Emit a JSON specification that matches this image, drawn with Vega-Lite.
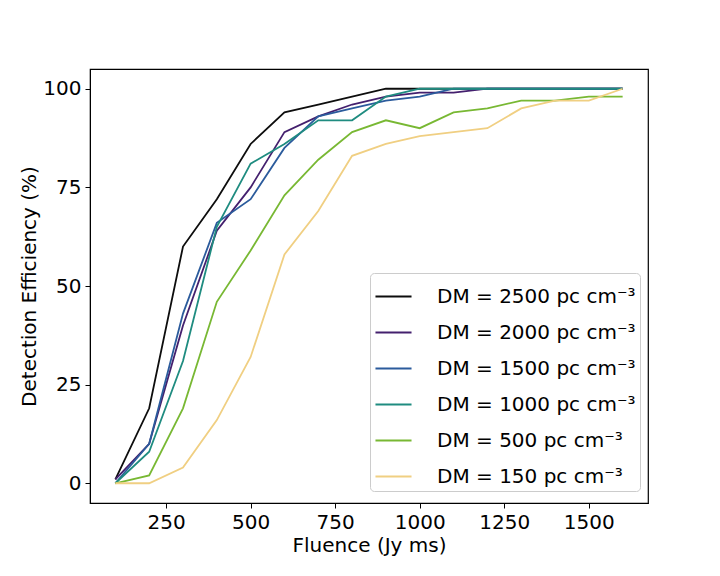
{
  "$schema": "https://vega.github.io/schema/vega-lite/v6.json",
  "autosize": "none",
  "padding": {"left": 90, "top": 69, "right": 72, "bottom": 73},
  "width": 558,
  "height": 434,
  "background": "white",
  "data": {
    "values": [
      {"f": 100, "e": 1, "dm": 2500}, {"f": 200, "e": 19, "dm": 2500}, {"f": 300, "e": 60, "dm": 2500}, {"f": 400, "e": 72, "dm": 2500},
      {"f": 500, "e": 86, "dm": 2500}, {"f": 600, "e": 94, "dm": 2500}, {"f": 700, "e": 96, "dm": 2500}, {"f": 800, "e": 98, "dm": 2500},
      {"f": 900, "e": 100, "dm": 2500}, {"f": 1000, "e": 100, "dm": 2500}, {"f": 1100, "e": 100, "dm": 2500}, {"f": 1200, "e": 100, "dm": 2500},
      {"f": 1300, "e": 100, "dm": 2500}, {"f": 1400, "e": 100, "dm": 2500}, {"f": 1500, "e": 100, "dm": 2500}, {"f": 1600, "e": 100, "dm": 2500},

      {"f": 100, "e": 1, "dm": 2000}, {"f": 200, "e": 10, "dm": 2000}, {"f": 300, "e": 40, "dm": 2000}, {"f": 400, "e": 64, "dm": 2000},
      {"f": 500, "e": 75, "dm": 2000}, {"f": 600, "e": 89, "dm": 2000}, {"f": 700, "e": 93, "dm": 2000}, {"f": 800, "e": 96, "dm": 2000},
      {"f": 900, "e": 98, "dm": 2000}, {"f": 1000, "e": 99, "dm": 2000}, {"f": 1100, "e": 99, "dm": 2000}, {"f": 1200, "e": 100, "dm": 2000},
      {"f": 1300, "e": 100, "dm": 2000}, {"f": 1400, "e": 100, "dm": 2000}, {"f": 1500, "e": 100, "dm": 2000}, {"f": 1600, "e": 100, "dm": 2000},

      {"f": 100, "e": 0, "dm": 1500}, {"f": 200, "e": 10, "dm": 1500}, {"f": 300, "e": 43, "dm": 1500}, {"f": 400, "e": 66, "dm": 1500},
      {"f": 500, "e": 72, "dm": 1500}, {"f": 600, "e": 85, "dm": 1500}, {"f": 700, "e": 93, "dm": 1500}, {"f": 800, "e": 95, "dm": 1500},
      {"f": 900, "e": 97, "dm": 1500}, {"f": 1000, "e": 98, "dm": 1500}, {"f": 1100, "e": 100, "dm": 1500}, {"f": 1200, "e": 100, "dm": 1500},
      {"f": 1300, "e": 100, "dm": 1500}, {"f": 1400, "e": 100, "dm": 1500}, {"f": 1500, "e": 100, "dm": 1500}, {"f": 1600, "e": 100, "dm": 1500},

      {"f": 100, "e": 0, "dm": 1000}, {"f": 200, "e": 8, "dm": 1000}, {"f": 300, "e": 31, "dm": 1000}, {"f": 400, "e": 65, "dm": 1000},
      {"f": 500, "e": 81, "dm": 1000}, {"f": 600, "e": 86, "dm": 1000}, {"f": 700, "e": 92, "dm": 1000}, {"f": 800, "e": 92, "dm": 1000},
      {"f": 900, "e": 98, "dm": 1000}, {"f": 1000, "e": 100, "dm": 1000}, {"f": 1100, "e": 100, "dm": 1000}, {"f": 1200, "e": 100, "dm": 1000},
      {"f": 1300, "e": 100, "dm": 1000}, {"f": 1400, "e": 100, "dm": 1000}, {"f": 1500, "e": 100, "dm": 1000}, {"f": 1600, "e": 100, "dm": 1000},

      {"f": 100, "e": 0, "dm": 500}, {"f": 200, "e": 2, "dm": 500}, {"f": 300, "e": 19, "dm": 500}, {"f": 400, "e": 46, "dm": 500},
      {"f": 500, "e": 59, "dm": 500}, {"f": 600, "e": 73, "dm": 500}, {"f": 700, "e": 82, "dm": 500}, {"f": 800, "e": 89, "dm": 500},
      {"f": 900, "e": 92, "dm": 500}, {"f": 1000, "e": 90, "dm": 500}, {"f": 1100, "e": 94, "dm": 500}, {"f": 1200, "e": 95, "dm": 500},
      {"f": 1300, "e": 97, "dm": 500}, {"f": 1400, "e": 97, "dm": 500}, {"f": 1500, "e": 98, "dm": 500}, {"f": 1600, "e": 98, "dm": 500},

      {"f": 100, "e": 0, "dm": 150}, {"f": 200, "e": 0, "dm": 150}, {"f": 300, "e": 4, "dm": 150}, {"f": 400, "e": 16, "dm": 150},
      {"f": 500, "e": 32, "dm": 150}, {"f": 600, "e": 58, "dm": 150}, {"f": 700, "e": 69, "dm": 150}, {"f": 800, "e": 83, "dm": 150},
      {"f": 900, "e": 86, "dm": 150}, {"f": 1000, "e": 88, "dm": 150}, {"f": 1100, "e": 89, "dm": 150}, {"f": 1200, "e": 90, "dm": 150},
      {"f": 1300, "e": 95, "dm": 150}, {"f": 1400, "e": 97, "dm": 150}, {"f": 1500, "e": 97, "dm": 150}, {"f": 1600, "e": 100, "dm": 150}
    ]
  },
  "mark": {"type": "line", "strokeWidth": 1.8, "clip": true},
  "encoding": {
    "x": {
      "field": "f",
      "type": "quantitative",
      "title": "Fluence (Jy ms)",
      "scale": {"domain": [25, 1675], "nice": false, "zero": false},
      "axis": {"values": [250, 500, 750, 1000, 1250, 1500], "format": "d"}
    },
    "y": {
      "field": "e",
      "type": "quantitative",
      "title": "Detection Efficiency (%)",
      "scale": {"domain": [-5, 105], "nice": false},
      "axis": {"values": [0, 25, 50, 75, 100]}
    },
    "color": {
      "field": "dm",
      "type": "nominal",
      "sort": [2500, 2000, 1500, 1000, 500, 150],
      "scale": {
        "domain": [2500, 2000, 1500, 1000, 500, 150],
        "range": ["#0d0d0d", "#44206e", "#2b5b9c", "#1f8c80", "#78b833", "#f0cf82"]
      },
      "legend": {
        "title": null,
        "orient": "none",
        "legendX": 280,
        "legendY": 204,
        "labelExpr": "'DM = ' + datum.label + ' pc cm⁻³'",
        "labelLimit": 400,
        "symbolType": "stroke",
        "symbolSize": 1300,
        "symbolStrokeWidth": 2,
        "labelFontSize": 20,
        "labelOffset": 24,
        "rowPadding": 6,
        "padding": 4,
        "strokeColor": "#cccccc",
        "cornerRadius": 4,
        "fillColor": "white"
      }
    }
  },
  "config": {
    "font": "DejaVu Sans",
    "view": {"stroke": "black", "strokeWidth": 1.2},
    "axis": {
      "grid": false,
      "domainColor": "black",
      "tickColor": "black",
      "tickSize": 5,
      "labelFontSize": 20,
      "labelColor": "black",
      "labelPadding": 4,
      "titleFontSize": 20,
      "titleFontWeight": "normal",
      "titleColor": "black"
    },
    "axisX": {"titlePadding": 3},
    "axisY": {"titlePadding": 3},
    "legend": {"labelColor": "black"}
  }
}
